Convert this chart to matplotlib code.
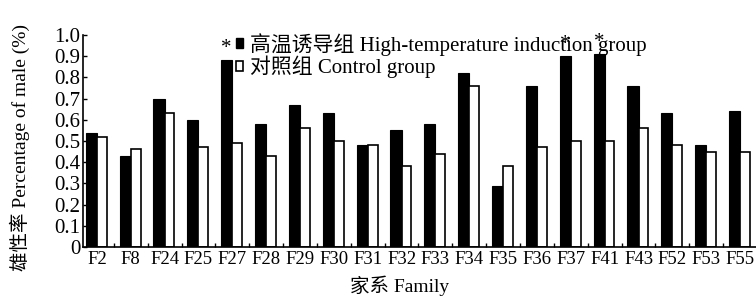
import numpy as np
import matplotlib
matplotlib.use('Agg')
import matplotlib.pyplot as plt
from matplotlib.patches import Patch

plt.rcParams['font.family'] = ['Liberation Serif', 'Noto Sans CJK SC']

families = ['F2', 'F8', 'F24', 'F25', 'F27', 'F28', 'F29', 'F30', 'F31', 'F32',
            'F33', 'F34', 'F35', 'F36', 'F37', 'F41', 'F43', 'F52', 'F53', 'F55']
high_temp = [0.54, 0.43, 0.70, 0.60, 0.88, 0.58, 0.67, 0.63, 0.48, 0.55,
             0.58, 0.82, 0.29, 0.76, 0.90, 0.91, 0.76, 0.63, 0.48, 0.64]
control = [0.52, 0.46, 0.63, 0.47, 0.49, 0.43, 0.56, 0.50, 0.48, 0.38,
           0.44, 0.76, 0.38, 0.47, 0.50, 0.50, 0.56, 0.48, 0.45, 0.45]
significant = ['F27', 'F37', 'F41']

fs = 15

fig = plt.figure(figsize=(7.56, 2.99), dpi=100)
ax = fig.add_axes([83/756, 1-247/299, 1-83/756, 212/299])

x = np.arange(len(families))
ax.bar(x, high_temp, width=-0.33, align='edge', color='black', edgecolor='black', linewidth=0.8)
ax.bar(x, control, width=0.29, align='edge', color='white', edgecolor='black', linewidth=1.2)

for i, f in enumerate(families):
    if f in significant:
        ax.text(i - 0.165, high_temp[i] + 0.01, '*', ha='center', va='bottom', fontsize=fs)

ax.set_xlim(-0.41, 19.47)
ax.set_ylim(0, 1.0)
ax.set_yticks(np.arange(0, 1.01, 0.1))
ax.set_yticklabels(['0'] + ['%.1f' % v for v in np.arange(0.1, 1.01, 0.1)])
ax.set_xticks(x)
ax.set_xticklabels(families)
ax.set_xticks(x[:-1] + 0.5, minor=True)
ax.tick_params(axis='x', which='major', length=0, pad=3, labelsize=13.5)
ax.tick_params(axis='x', which='minor', direction='in', length=3, width=1)
ax.tick_params(axis='y', direction='in', length=3, width=1, pad=2, labelsize=fs)
for s in ['top', 'right']:
    ax.spines[s].set_visible(False)
for s in ['left', 'bottom']:
    ax.spines[s].set_linewidth(1.2)

ax.set_ylabel('雄性率 Percentage of male (%)', fontsize=14)
ax.yaxis.set_label_coords(-0.079, 0.47)
ax.set_xlabel('家系 Family', fontsize=14)
ax.xaxis.set_label_coords(0.47, -0.135)

handles = [Patch(facecolor='black', edgecolor='black'),
           Patch(facecolor='white', edgecolor='black', linewidth=1.2)]
fig.legend(handles, ['高温诱导组 High-temperature induction group', '对照组 Control group'],
           loc='upper left', bbox_to_anchor=(236/756, 1-33/299), frameon=False,
           fontsize=fs, handlelength=0.35, handleheight=0.35, handletextpad=0.3,
           labelspacing=0.0, borderpad=0, borderaxespad=0)

fig.savefig('out.png', dpi=100)
